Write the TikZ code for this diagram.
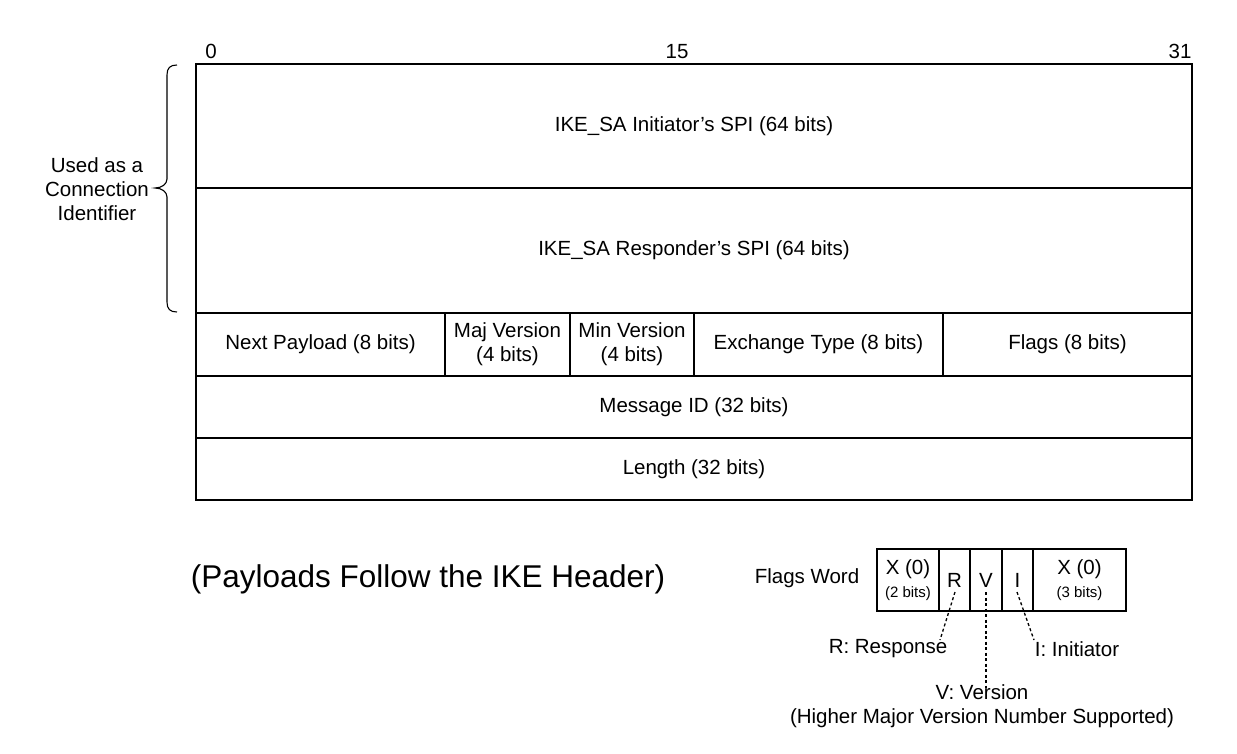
\documentclass[tikz,border=0pt]{standalone}
\usepackage{fontspec}
\setmainfont{Liberation Sans}
\begin{document}
\begin{tikzpicture}[x=1pt,y=-1pt,
  cell/.style={draw, line width=1.2pt, inner sep=0pt, align=center, font=\fontsize{20.5}{24}\selectfont},
  lbl/.style={inner sep=0pt, align=center, font=\fontsize{20.5}{24}\selectfont},
  dashline/.style={line width=1.3pt, dash pattern=on 3pt off 2.5pt}]
\useasboundingbox (0,0) rectangle (1237,754);
% main header
\node[cell, minimum width=996pt, minimum height=124pt] (ispi) at (694,126) {IKE\_SA Initiator’s SPI (64 bits)};
\node[cell, minimum width=996pt, minimum height=125pt] (rspi) at (694,250.5) {IKE\_SA Responder’s SPI (64 bits)};
\node[cell, minimum width=249pt, minimum height=63pt] (np) at (320.5,344.5) {Next Payload (8 bits)};
\node[cell, minimum width=125pt, minimum height=63pt] (maj) at (507.5,344.5) {Maj Version\\(4 bits)};
\node[cell, minimum width=124pt, minimum height=63pt] (min) at (632,344.5) {Min Version\\(4 bits)};
\node[cell, minimum width=249pt, minimum height=63pt] (ex) at (818.5,344.5) {Exchange Type (8 bits)};
\node[cell, minimum width=249pt, minimum height=63pt] (fl) at (1067.5,344.5) {Flags (8 bits)};
\node[cell, minimum width=996pt, minimum height=62pt] (mid) at (694,407) {Message ID (32 bits)};
\node[cell, minimum width=996pt, minimum height=62pt] (len) at (694,469) {Length (32 bits)};
% bit numbers
\node[lbl, anchor=base] (b0) at (211,59) {0};
\node[lbl, anchor=base] (b15) at (677,59) {15};
\node[lbl, anchor=base] (b31) at (1180,59) {31};
% brace
\draw[line width=1.1pt] (177,65) .. controls (170,65) and (167,68) .. (167,75) -- (167,179)
  .. controls (167,184) and (162,188) .. (155,188)
  .. controls (162,188) and (167,192) .. (167,197) -- (167,302)
  .. controls (167,309) and (170,312) .. (177,312);
\node[lbl] (conn) at (97,189) {Used as a\\Connection\\Identifier};
% payloads follow
\node[lbl, font=\fontsize{31.5}{36}\selectfont] (pf) at (428,579) {(Payloads Follow the IKE Header)};
% flags word
\node[lbl] (fw) at (807,578) {Flags Word};
\node[cell, minimum width=62pt, minimum height=62pt] (x1) at (908,580) {X (0)\\[-1pt]{\fontsize{15}{17}\selectfont (2 bits)}};
\node[cell, minimum width=31pt, minimum height=62pt] (fr) at (954.5,580) {R};
\node[cell, minimum width=32pt, minimum height=62pt] (fv) at (986,580) {V};
\node[cell, minimum width=31pt, minimum height=62pt] (fi) at (1017.5,580) {I};
\node[cell, minimum width=93pt, minimum height=62pt] (x2) at (1079.5,580) {X (0)\\[-1pt]{\fontsize{15}{17}\selectfont (3 bits)}};
% labels
\node[lbl] (resp) at (888,649) {R: Response};
\node[lbl] (init) at (1077,649) {I: Initiator};
\node[lbl] (ver) at (982,706) {V: Version\\(Higher Major Version Number Supported)};
\coordinate (rs) at (955,592);
\coordinate (re) at (940,640);
\coordinate (vs) at (986,592);
\coordinate (ve) at (986,688);
\coordinate (is) at (1017,592);
\coordinate (ie) at (1034,640);
\draw[dashline] (rs) -- (re);
\draw[dashline] (vs) -- (ve);
\draw[dashline] (is) -- (ie);
\end{tikzpicture}
\end{document}
